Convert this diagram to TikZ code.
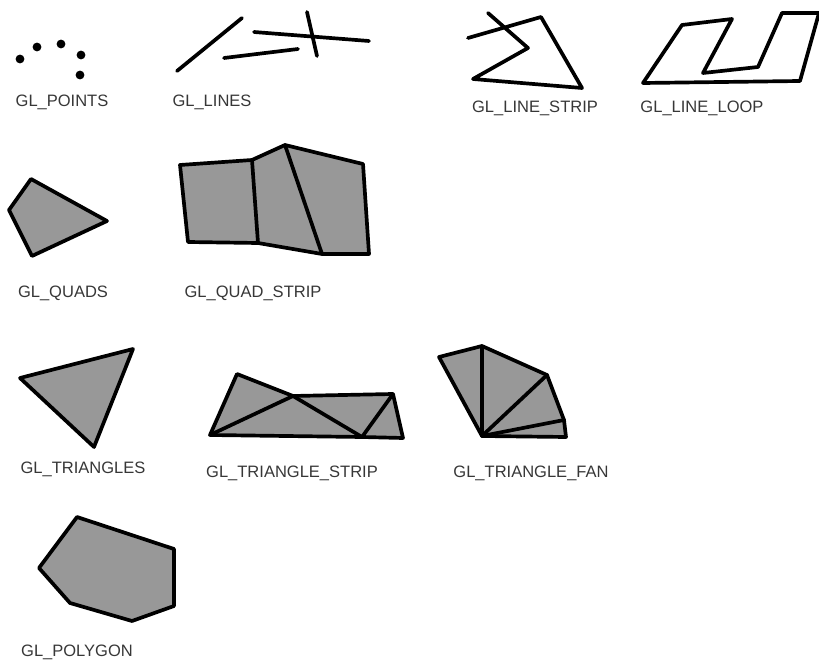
\documentclass[tikz,border=0pt]{standalone}
\usepackage{fontspec}
\setmainfont{Liberation Sans}
\definecolor{glfill}{RGB}{152,152,152}
\definecolor{gltext}{RGB}{55,55,55}
\tikzset{
	prim/.style={line width=2.1pt, line join=round, line cap=round},
	solid fill/.style={prim, fill=glfill},
	gldot/.style={fill=black},
	gllabel/.style={font=\fontsize{9.4}{11}\selectfont, text=gltext, inner sep=0pt}
}

\begin{document}
\begin{tikzpicture}[x=0.02cm, y=-0.02cm]
	\useasboundingbox (0,0) rectangle (819,662);
	% Points, lines, strips and loops:
	\foreach \px/\py in {20/59, 37/47, 61/44, 81/55, 80/75}
		\fill[gldot] (\px,\py) circle[radius=2.5pt];
	\node[gllabel] (points) at (62,102) {GL\_POINTS};

	\draw[prim] (177,71) -- (242,18);
	\draw[prim] (254,32) -- (369,41);
	\draw[prim] (224,58) -- (298,49);
	\draw[prim] (307,12) -- (317,56);
	\node[gllabel] (lines) at (212,102) {GL\_LINES};

	\draw[prim] (488,13) -- (528,48) -- (473,79) -- (582,88) -- (541,17) -- (468,38);
	\node[gllabel] (linestrip) at (535,108) {GL\_LINE\_STRIP};

	\draw[prim] (643,83) -- (682,25) -- (732,19) -- (703,73) -- (758,67) -- (782,13) -- (819,13) -- (800,81) -- cycle;
	\node[gllabel] (lineloop) at (702,108) {GL\_LINE\_LOOP};

	% Quads:
	\draw[solid fill] (31,179) -- (107,221) -- (32,256) -- (9,210) -- cycle;
	\node[gllabel] (quads) at (63,293) {GL\_QUADS};

	\draw[solid fill] (188,242) -- (180,165) -- (252,160) -- (285,145) -- (363,164) -- (369,254) -- (322,254) -- (258,243) -- cycle;
	\draw[prim] (252,160) -- (258,243);
	\draw[prim] (285,145) -- (322,254);
	\node[gllabel] (quadstrip) at (253,293) {GL\_QUAD\_STRIP};

	% Triangles:
	\draw[solid fill] (20,378) -- (133,349) -- (94,447) -- cycle;
	\node[gllabel] (triangles) at (83,469) {GL\_TRIANGLES};

	\draw[solid fill] (210,435) -- (237,374) -- (293,396) -- (393,394) -- (403,438) -- (362,437) -- cycle;
	\draw[prim] (210,435) -- (293,396) -- (362,437) -- (393,394);
	\node[gllabel] (trianglestrip) at (292,473) {GL\_TRIANGLE\_STRIP};

	\draw[solid fill] (482,436) -- (439,357) -- (482,346) -- (547,375) -- (564,420) -- (566,437) -- cycle;
	\draw[prim] (482,346) -- (482,436) -- (547,375);
	\draw[prim] (482,436) -- (564,420);
	\node[gllabel] (trianglefan) at (531,473) {GL\_TRIANGLE\_FAN};

	% Polygon:
	\draw[solid fill] (77,517) -- (174,549) -- (174,606) -- (132,621) -- (70,603) -- (39,568) -- cycle;
	\node[gllabel] (polygon) at (77,652) {GL\_POLYGON};
\end{tikzpicture}
\end{document}
